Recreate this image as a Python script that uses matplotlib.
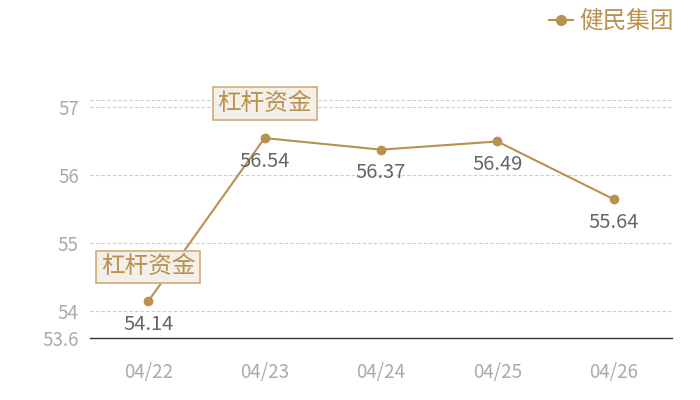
import matplotlib
matplotlib.use("Agg")
import matplotlib.pyplot as plt
from matplotlib.lines import Line2D

plt.rcParams['font.family'] = ['Noto Sans CJK SC', 'DejaVu Sans']

dates = ['04/22', '04/23', '04/24', '04/25', '04/26']
values = [54.14, 56.54, 56.37, 56.49, 55.64]
series_name = '健民集团'
tag_text = '杠杆资金'
tag_idx = [0, 1]
yticks = [53.6, 54, 55, 56, 57]

gold = '#b8914f'

fig = plt.figure(figsize=(7, 4), dpi=100)
ax = fig.add_axes([90 / 700, 62 / 400, 582 / 700, 238 / 400])

x = list(range(len(dates)))
ax.plot(x, values, color=gold, lw=1.5, marker='o', ms=6, zorder=3)

ax.set_xlim(-0.5, len(dates) - 0.5)
ax.set_ylim(53.6, 57.1)

for v in [54, 55, 56, 57, 57.1]:
    ax.axhline(v, color='#cccccc', lw=0.8, ls=(0, (3, 2)), zorder=1)

for i, v in enumerate(values):
    ax.annotate(f'{v:.2f}', (i, v), xytext=(0, -9), textcoords='offset points',
                ha='center', va='top', fontsize=14.5, color='#666666')

for i in tag_idx:
    ax.annotate(tag_text, (i, values[i]), xytext=(0, 16.5), textcoords='offset points',
                ha='center', va='bottom', fontsize=17, color=gold,
                bbox=dict(boxstyle='square,pad=0.2', fc='#f4efe8', ec='#d4b27f', lw=1.3))

ax.set_xticks(x)
ax.set_xticklabels(dates)
ax.set_yticks(yticks)
ax.set_yticklabels(['53.6', '54', '55', '56', '57'])
ax.tick_params(axis='both', length=0, labelsize=13.5, colors='#aaaaaa')
ax.tick_params(axis='x', pad=17)
ax.tick_params(axis='y', pad=8)

for s in ['top', 'right', 'left']:
    ax.spines[s].set_visible(False)
ax.spines['bottom'].set_color('#333333')
ax.spines['bottom'].set_linewidth(1)

handle = Line2D([0], [0], color=gold, lw=1.5, marker='o', ms=7)
fig.legend([handle], [series_name], loc='upper right', bbox_to_anchor=(0.98, 1.005),
           frameon=False, fontsize=17, labelcolor=gold, handlelength=1.0,
           handletextpad=0.3, borderaxespad=0.1)

fig.savefig('out.png', dpi=100)
